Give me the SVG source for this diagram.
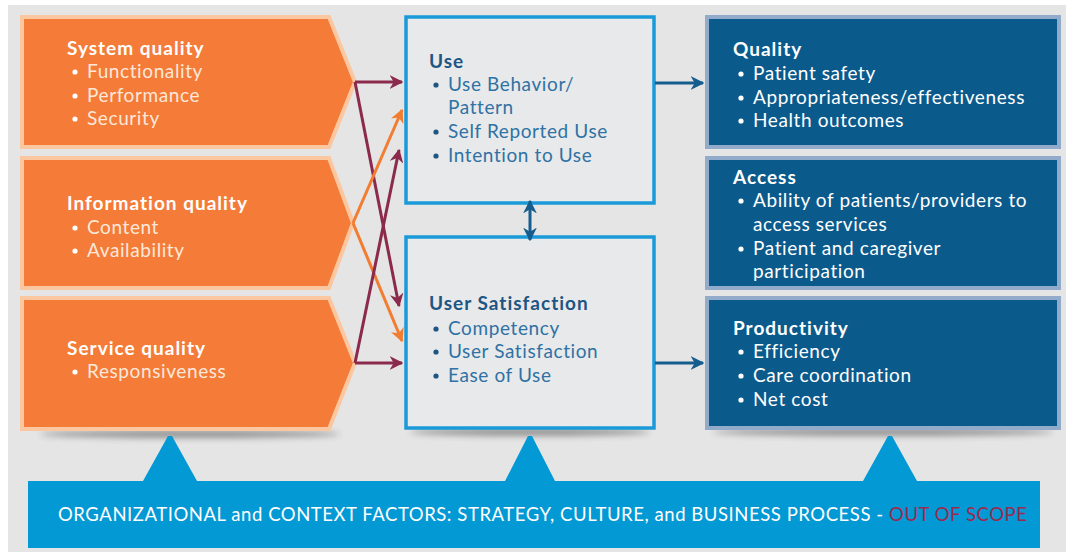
<svg xmlns="http://www.w3.org/2000/svg" width="1069" height="552" viewBox="0 0 1069 552">
  <defs>
    <style>
      .t { font-family: Lato, "Open Sans", "Liberation Sans", sans-serif; font-size: 19px; letter-spacing: 0.6px; }
      .h { font-weight: bold; font-size: 19px; letter-spacing: 1px; }
      .w { fill: #ffffff; }
      .wl { fill: #fde8da; }
      .uh { fill: #1d5583; }
      .ub { fill: #2f72a3; }
      .dot { fill: #1d5583; }
      .wdot { fill: #ffffff; }
      .chev { fill: #f47b38; stroke: #fbc7a0; stroke-width: 4; stroke-linejoin: miter; }
      .mid { fill: #e8e9eb; stroke: #1a9ad8; stroke-width: 3.5; }
      .out { fill: #0b5a8c; stroke: #93abca; stroke-width: 4; }
      .band { fill: #0399d5; }
      .c-m { fill: none; stroke: #8b2a4c; stroke-width: 3; marker-end: url(#hm); }
      .c-o { fill: none; stroke: #f27c30; stroke-width: 3; marker-end: url(#ho); }
      .c-b { fill: none; stroke: #155d8e; stroke-width: 3; marker-end: url(#hb); }
    </style>
    <marker id="hm" viewBox="0 0 10 10" refX="9" refY="5" markerWidth="4.6" markerHeight="4.6" orient="auto-start-reverse">
      <path d="M0,0 L10,5 L0,10 L3,5 z" fill="#8b2a4c"/>
    </marker>
    <marker id="ho" viewBox="0 0 10 10" refX="9" refY="5" markerWidth="4.6" markerHeight="4.6" orient="auto-start-reverse">
      <path d="M0,0 L10,5 L0,10 L3,5 z" fill="#f27c30"/>
    </marker>
    <marker id="hb" viewBox="0 0 10 10" refX="9" refY="5" markerWidth="4.6" markerHeight="4.6" orient="auto-start-reverse">
      <path d="M0,0 L10,5 L0,10 L3,5 z" fill="#155d8e"/>
    </marker>
    <filter id="soft" x="-20%" y="-200%" width="140%" height="500%">
      <feGaussianBlur stdDeviation="3"/>
    </filter>
  </defs>

  <!-- page backdrop -->
  <rect x="0" y="0" width="1069" height="552" fill="#ffffff"/>
  <rect x="8" y="5" width="1058" height="547" fill="#e5e5e5"/>

  <!-- drop shadows under the bottom row -->
  <g id="shadows" opacity="0.45">
    <ellipse cx="190" cy="434" rx="150" ry="4" fill="#333" filter="url(#soft)"/>
    <ellipse cx="530" cy="432" rx="120" ry="4" fill="#333" filter="url(#soft)"/>
    <ellipse cx="883" cy="432" rx="170" ry="4" fill="#333" filter="url(#soft)"/>
  </g>

  <!-- input dimensions -->
  <g id="system-quality">
    <polygon class="chev" points="22,17 329,17 355,82 329,147 22,147"/>
    <text class="t h w" x="67" y="55">System quality</text>
    <circle class="wdot" cx="75" cy="72" r="2.6"/>
    <text class="t wl" x="87" y="78">Functionality</text>
    <circle class="wdot" cx="75" cy="96" r="2.6"/>
    <text class="t wl" x="87" y="102">Performance</text>
    <circle class="wdot" cx="75" cy="119" r="2.6"/>
    <text class="t wl" x="87" y="125">Security</text>
  </g>

  <g id="information-quality">
    <polygon class="chev" points="22,158 329,158 353,223 329,288 22,288"/>
    <text class="t h w" x="67" y="210">Information quality</text>
    <circle class="wdot" cx="75" cy="228" r="2.6"/>
    <text class="t wl" x="87" y="234">Content</text>
    <circle class="wdot" cx="75" cy="251" r="2.6"/>
    <text class="t wl" x="87" y="257">Availability</text>
  </g>

  <g id="service-quality">
    <polygon class="chev" points="22,298 329,298 355,363 329,429 22,429"/>
    <text class="t h w" x="67" y="355">Service quality</text>
    <circle class="wdot" cx="75" cy="372" r="2.6"/>
    <text class="t wl" x="87" y="378">Responsiveness</text>
  </g>

  <!-- use and satisfaction -->
  <g id="use">
    <rect class="mid" x="406" y="17" width="248" height="186"/>
    <text class="t h uh" x="429" y="68">Use</text>
    <circle class="dot" cx="436" cy="85" r="2.6"/>
    <text class="t ub" x="448" y="91">Use Behavior/</text>
    <text class="t ub" x="448" y="114">Pattern</text>
    <circle class="dot" cx="436" cy="132" r="2.6"/>
    <text class="t ub" x="448" y="138">Self Reported Use</text>
    <circle class="dot" cx="436" cy="156" r="2.6"/>
    <text class="t ub" x="448" y="162">Intention to Use</text>
  </g>

  <g id="user-satisfaction">
    <rect class="mid" x="406" y="237" width="248" height="191"/>
    <text class="t h uh" x="429" y="310">User Satisfaction</text>
    <circle class="dot" cx="436" cy="329" r="2.6"/>
    <text class="t ub" x="448" y="335">Competency</text>
    <circle class="dot" cx="436" cy="352" r="2.6"/>
    <text class="t ub" x="448" y="358">User Satisfaction</text>
    <circle class="dot" cx="436" cy="376" r="2.6"/>
    <text class="t ub" x="448" y="382">Ease of Use</text>
  </g>

  <!-- outcomes -->
  <g id="quality">
    <rect class="out" x="707" y="17" width="352" height="130"/>
    <text class="t h w" x="733" y="56">Quality</text>
    <circle class="wdot" cx="741" cy="74" r="2.6"/>
    <text class="t w" x="753" y="80">Patient safety</text>
    <circle class="wdot" cx="741" cy="98" r="2.6"/>
    <text class="t w" x="753" y="104">Appropriateness/effectiveness</text>
    <circle class="wdot" cx="741" cy="121" r="2.6"/>
    <text class="t w" x="753" y="127">Health outcomes</text>
  </g>

  <g id="access">
    <rect class="out" x="707" y="158" width="352" height="130"/>
    <text class="t h w" x="733" y="184">Access</text>
    <circle class="wdot" cx="741" cy="201" r="2.6"/>
    <text class="t w" x="753" y="207">Ability of patients/providers to</text>
    <text class="t w" x="753" y="231">access services</text>
    <circle class="wdot" cx="741" cy="249" r="2.6"/>
    <text class="t w" x="753" y="255">Patient and caregiver</text>
    <text class="t w" x="753" y="278">participation</text>
  </g>

  <g id="productivity">
    <rect class="out" x="707" y="298" width="352" height="130"/>
    <text class="t h w" x="733" y="335">Productivity</text>
    <circle class="wdot" cx="741" cy="352" r="2.6"/>
    <text class="t w" x="753" y="358">Efficiency</text>
    <circle class="wdot" cx="741" cy="376" r="2.6"/>
    <text class="t w" x="753" y="382">Care coordination</text>
    <circle class="wdot" cx="741" cy="400" r="2.6"/>
    <text class="t w" x="753" y="406">Net cost</text>
  </g>

  <!-- context band with pointers up to each column -->
  <g id="context">
    <path class="band" d="M28,481 L143,481 L168,436 L172,436 L197,481 L505,481 L528,436 L532,436 L555,481 L863,481 L888,436 L892,436 L917,481 L1040,481 L1040,548 L28,548 Z"/>
    <text class="t w" x="58" y="521" style="font-size:18.5px; letter-spacing:0.55px">ORGANIZATIONAL and CONTEXT FACTORS: STRATEGY, CULTURE, and BUSINESS PROCESS - <tspan fill="#9b2a4e">OUT OF SCOPE</tspan></text>
  </g>

  <!-- connectors -->
  <g id="connectors">
    <path class="c-m" d="M355,82 L402,82"/>
    <path class="c-m" d="M355,82 L399,306"/>
    <path class="c-o" d="M353,223 L402,110"/>
    <path class="c-o" d="M353,223 L402,341"/>
    <path class="c-m" d="M355,363 L399,150"/>
    <path class="c-m" d="M355,363 L402,363"/>
    <path class="c-b" d="M655,83 L703,83"/>
    <path class="c-b" d="M655,363 L703,363"/>
    <path class="c-b" d="M530,201 L530,240" marker-start="url(#hb)"/>
  </g>
</svg>
